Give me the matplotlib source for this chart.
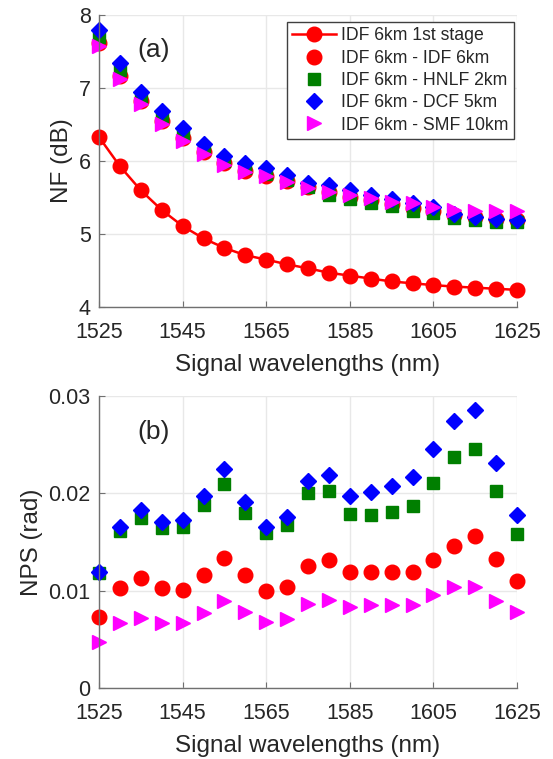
import matplotlib
matplotlib.use("Agg")
import matplotlib.pyplot as plt
import numpy as np

plt.rcParams['font.family'] = ['Liberation Sans', 'DejaVu Sans']

wavelengths = [1525, 1530, 1535, 1540, 1545, 1550, 1555, 1560, 1565, 1570, 1575,
               1580, 1585, 1590, 1595, 1600, 1605, 1610, 1615, 1620, 1625]

# Panel (a): NF (dB)
nf_first_stage = [6.33, 5.93, 5.60, 5.33, 5.11, 4.94, 4.81, 4.71, 4.65, 4.585, 4.53,
                  4.47, 4.43, 4.39, 4.35, 4.325, 4.30, 4.28, 4.265, 4.25, 4.235]
nf_idf = [7.62, 7.17, 6.82, 6.55, 6.31, 6.12, 5.97, 5.87, 5.80, 5.73, 5.64,
          5.57, 5.51, 5.46, 5.41, 5.36, 5.32, 5.26, 5.23, 5.21, 5.19]
nf_hnlf = [7.70, 7.25, 6.88, 6.60, 6.36, 6.16, 6.00, 5.90, 5.82, 5.74, 5.65,
           5.54, 5.48, 5.43, 5.38, 5.32, 5.29, 5.22, 5.19, 5.17, 5.16]
nf_dcf = [7.80, 7.34, 6.95, 6.68, 6.45, 6.23, 6.07, 5.97, 5.91, 5.81, 5.70,
          5.67, 5.61, 5.53, 5.48, 5.43, 5.37, 5.28, 5.24, 5.21, 5.19]
nf_smf = [7.58, 7.13, 6.78, 6.51, 6.28, 6.10, 5.95, 5.85, 5.79, 5.72, 5.63,
          5.58, 5.53, 5.49, 5.44, 5.42, 5.37, 5.33, 5.31, 5.31, 5.31]

# Panel (b): NPS (rad)
nps_idf = [0.0073, 0.0103, 0.0113, 0.0103, 0.0101, 0.0116, 0.0134, 0.0116, 0.0100, 0.0104, 0.0125,
           0.0132, 0.0119, 0.0119, 0.0119, 0.0119, 0.0132, 0.0146, 0.0156, 0.0133, 0.0110]
nps_hnlf = [0.0118, 0.0161, 0.0175, 0.0164, 0.0166, 0.0188, 0.0210, 0.0180, 0.0159, 0.0168, 0.0200,
            0.0203, 0.0179, 0.0178, 0.0181, 0.0187, 0.0211, 0.0238, 0.0246, 0.0203, 0.0158]
nps_dcf = [0.0119, 0.0166, 0.0183, 0.0171, 0.0173, 0.0197, 0.0225, 0.0191, 0.0166, 0.0176, 0.0213,
           0.0219, 0.0197, 0.0202, 0.0208, 0.0217, 0.0246, 0.0275, 0.0286, 0.0231, 0.0178]
nps_smf = [0.0047, 0.0067, 0.0072, 0.0067, 0.0067, 0.0077, 0.0089, 0.0078, 0.0068, 0.0071, 0.0086,
           0.0090, 0.0083, 0.0085, 0.0085, 0.0085, 0.0096, 0.0104, 0.0104, 0.0089, 0.0078]

labels = ['IDF 6km 1st stage', 'IDF 6km - IDF 6km', 'IDF 6km - HNLF 2km',
          'IDF 6km - DCF 5km', 'IDF 6km - SMF 10km']
xticks = [1525, 1545, 1565, 1585, 1605, 1625]

TXT = '#262626'
SP = '#707070'

fig = plt.figure(figsize=(5.53, 7.59), dpi=100)
ax1 = fig.add_axes([0.179, 0.5955, 0.756, 0.3845])
ax2 = fig.add_axes([0.179, 0.0935, 0.756, 0.3845])

def style(ax):
    ax.set_xlim(1525, 1625)
    ax.set_xticks(xticks)
    ax.grid(True, color='#e8e8e8', linewidth=1.0)
    ax.set_axisbelow(True)
    for s in ['top', 'right']:
        ax.spines[s].set_visible(False)
    for s in ['left', 'bottom']:
        ax.spines[s].set_color(SP)
        ax.spines[s].set_linewidth(1.0)
    ax.tick_params(direction='in', length=4, color=SP, labelcolor=TXT,
                   labelsize=15.5)
    ax.tick_params(axis='x', pad=11)
    ax.tick_params(axis='y', pad=6)
    ax.set_xlabel('Signal wavelengths (nm)', fontsize=17.5, color=TXT, labelpad=8)

ms_c = 10.5
ms_s = 8.5
ms_d = 8.5
ms_t = 10.5
kw = dict(clip_on=False)
ax1.plot(wavelengths, nf_first_stage, '-o', color='red', lw=1.8, ms=ms_c, label=labels[0], **kw)
ax1.plot(wavelengths, nf_idf, 'o', color='red', ms=ms_c, ls='none', label=labels[1], **kw)
ax1.plot(wavelengths, nf_hnlf, 's', color='#007f00', ms=ms_s, ls='none', label=labels[2], **kw)
ax1.plot(wavelengths, nf_dcf, 'D', color='blue', ms=ms_d, ls='none', label=labels[3], **kw)
ax1.plot(wavelengths, nf_smf, '>', color='magenta', ms=ms_t, ls='none', label=labels[4], **kw)
style(ax1)
ax1.set_ylim(4, 8)
ax1.set_yticks([4, 5, 6, 7, 8])
ax1.set_ylabel('NF (dB)', fontsize=17.5, color=TXT, labelpad=4)
ax1.text(1538, 7.52, '(a)', fontsize=19, color=TXT, ha='center', va='center')
leg = ax1.legend(loc='upper right', bbox_to_anchor=(0.993, 0.976), borderaxespad=0,
                 fontsize=12.7, fancybox=False, framealpha=1, edgecolor='#404040',
                 handlelength=2.5, handletextpad=0.3, labelspacing=0.3,
                 borderpad=0.3)
leg.get_frame().set_linewidth(1.0)
leg.set_zorder(10)
for t in leg.get_texts():
    t.set_color(TXT)

ax2.plot(wavelengths, nps_idf, 'o', color='red', ms=ms_c, ls='none', **kw)
ax2.plot(wavelengths, nps_hnlf, 's', color='#007f00', ms=ms_s, ls='none', **kw)
ax2.plot(wavelengths, nps_dcf, 'D', color='blue', ms=ms_d, ls='none', **kw)
ax2.plot(wavelengths, nps_smf, '>', color='magenta', ms=ms_t, ls='none', **kw)
style(ax2)
ax2.set_ylim(0, 0.03)
ax2.set_yticks([0, 0.01, 0.02, 0.03])
ax2.set_yticklabels(['0', '0.01', '0.02', '0.03'])
ax2.set_ylabel('NPS (rad)', fontsize=17.5, color=TXT, labelpad=4)
ax2.text(1538, 0.0263, '(b)', fontsize=19, color=TXT, ha='center', va='center')

fig.savefig('out.png', dpi=100)
